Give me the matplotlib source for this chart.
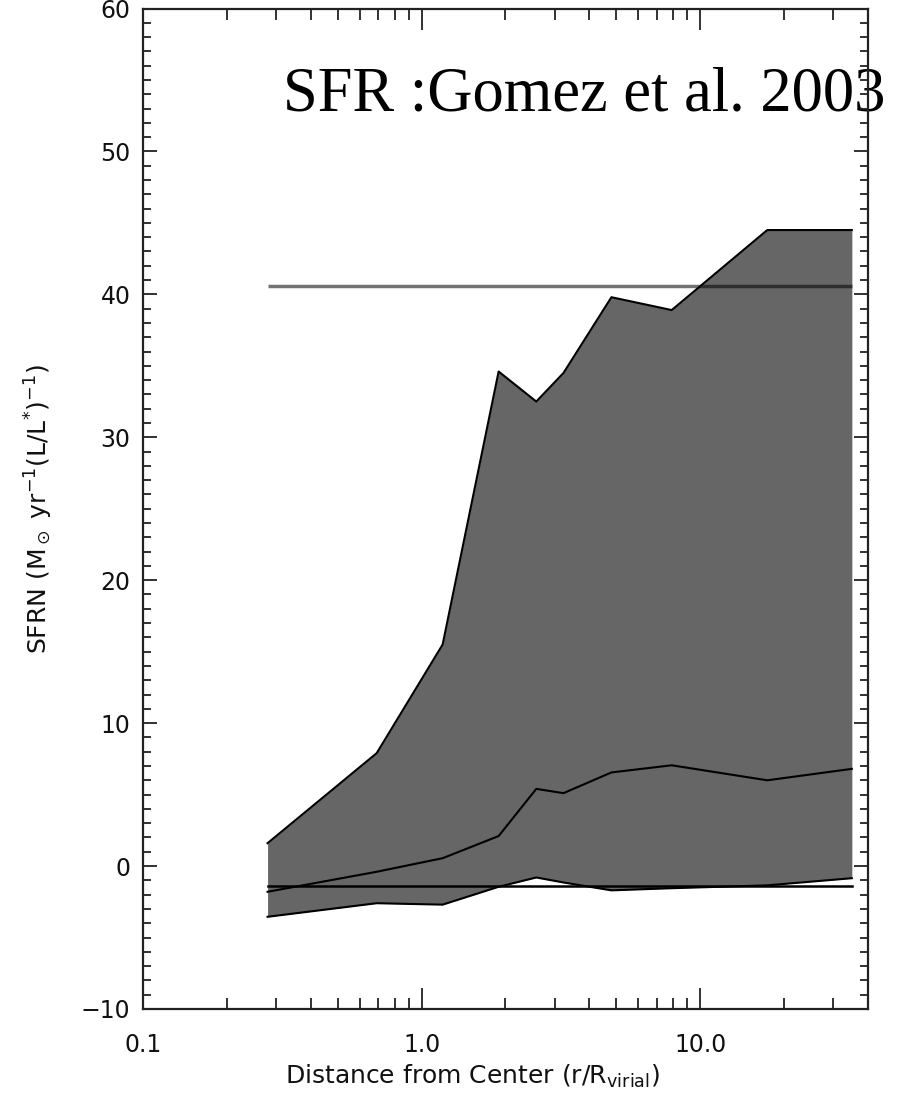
import numpy as np
import matplotlib
matplotlib.use("Agg")
import matplotlib.pyplot as plt
from matplotlib.ticker import FixedLocator, FixedFormatter, MultipleLocator

# radial bins (r / R_virial) and SFRN envelope
r_bins = [0.28, 0.69, 1.19, 1.89, 2.58, 3.23, 4.80, 7.90, 17.4, 35.0]
sfrn_upper = [1.6, 7.9, 15.5, 34.6, 32.5, 34.5, 39.8, 38.9, 44.5, 44.5]
sfrn_median = [-1.8, -0.4, 0.55, 2.1, 5.4, 5.1, 6.55, 7.05, 6.0, 6.8]
sfrn_lower = [-3.55, -2.6, -2.7, -1.45, -0.8, -1.15, -1.7, -1.55, -1.35, -0.85]

# reference levels
gomez_level = 40.6
base_level = -1.4

x_ticks = [0.1, 1.0, 10.0]
x_tick_labels = ["0.1", "1.0", "10.0"]
y_ticks = [-10, 0, 10, 20, 30, 40, 50, 60]

fig = plt.figure(figsize=(9.02, 11.05), dpi=100)
ax = fig.add_axes([0.1585, 0.0869, 0.8038, 0.9054])

ax.fill_between(r_bins, sfrn_lower, sfrn_upper, color="#666666", linewidth=0, zorder=1)
ax.plot(r_bins, sfrn_upper, color="black", lw=1.5, zorder=2)
ax.plot(r_bins, sfrn_lower, color="black", lw=1.5, zorder=2)
ax.plot(r_bins, sfrn_median, color="black", lw=1.5, zorder=2)
ax.plot([r_bins[0], r_bins[-1]], [base_level, base_level], color="black", lw=1.8, zorder=2)
ax.plot([r_bins[0], r_bins[-1]], [gomez_level, gomez_level], color="black", alpha=0.55,
        lw=2.5, zorder=3, solid_capstyle="butt")

ax.set_xscale("log")
ax.set_xlim(0.1, 40)
ax.set_ylim(-10, 60)

ax.xaxis.set_major_locator(FixedLocator(x_ticks))
ax.xaxis.set_major_formatter(FixedFormatter(x_tick_labels))
ax.yaxis.set_major_locator(FixedLocator(y_ticks))
ax.yaxis.set_minor_locator(MultipleLocator(1))

ax.tick_params(axis="both", which="both", direction="in", top=True, right=True,
               colors="#222222", labelcolor="#111111", labelsize=17, width=1.3)
ax.tick_params(axis="x", which="major", length=15, pad=17)
ax.tick_params(axis="x", which="minor", length=8)
ax.tick_params(axis="y", which="major", length=10, pad=9)
ax.tick_params(axis="y", which="minor", length=5.5)

for sp in ax.spines.values():
    sp.set_linewidth(1.6)
    sp.set_color("#222222")

ax.set_xlabel(r"Distance from Center (r/R$_{\rm virial}$)", fontsize=18, color="#111111")
ax.xaxis.set_label_coords(0.455, -0.054)
ax.set_ylabel(r"SFRN (M$_\odot$ yr$^{-1}$(L/L$^{*}$)$^{-1}$)", fontsize=18, color="#111111")
ax.yaxis.set_label_coords(-0.122, 0.5)

ax.text(0.1935, 0.898, "SFR :Gomez et al. 2003", transform=ax.transAxes,
        fontsize=45, family="Liberation Serif", ha="left", va="baseline",
        zorder=1.5, clip_on=False)

fig.savefig("out.png", dpi=100)
